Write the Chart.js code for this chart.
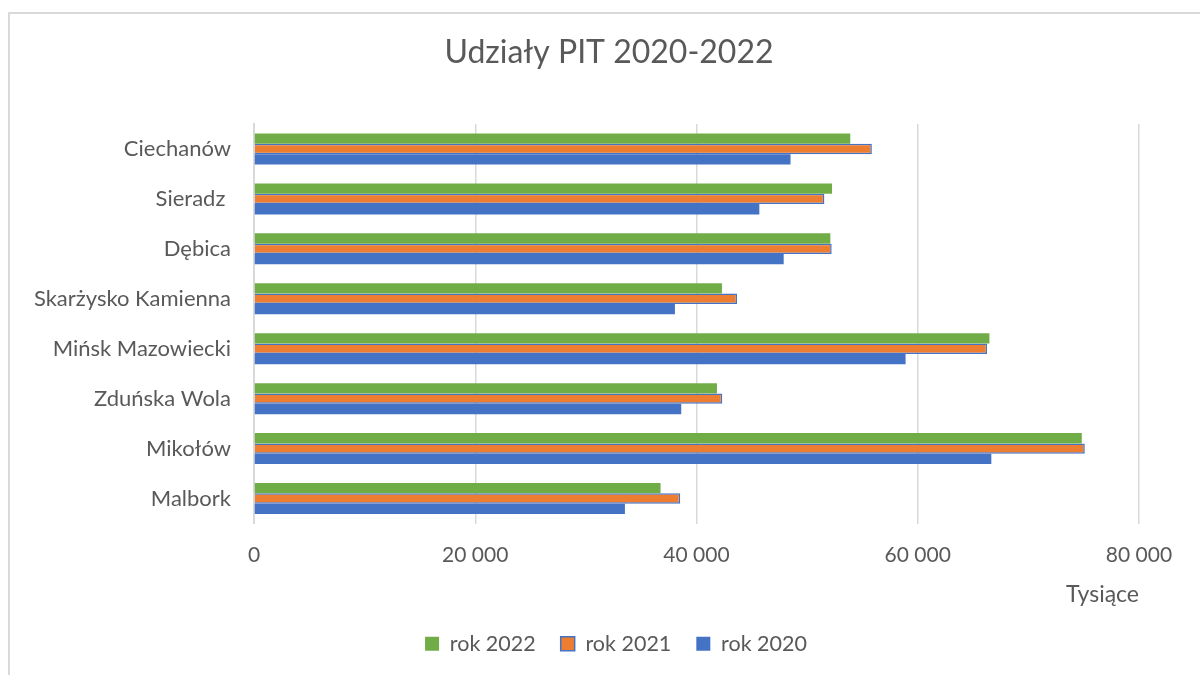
<!DOCTYPE html>
<html>
<head>
<meta charset="utf-8">
<script src="https://cdn.jsdelivr.net/npm/chart.js@4.4.1/dist/chart.umd.min.js"></script>
<style>
  html, body { margin: 0; padding: 0; background: #ffffff; overflow: hidden; }
  #wrap { position: relative; width: 1200px; height: 675px; }
  #frame { position: absolute; left: 8px; top: 12px; width: 1300px; height: 800px;
           border-top: 2px solid #d9d9d9; border-left: 2px solid #d9d9d9; box-sizing: border-box; }
  #c { position: absolute; left: 0; top: 0; }
</style>
</head>
<body>
<div id="wrap">
  <div id="frame"></div>
  <canvas id="c" width="1200" height="675"></canvas>
</div>
<script>
const categories = ['Ciechanów', 'Sieradz ', 'Dębica', 'Skarżysko Kamienna', 'Mińsk Mazowiecki', 'Zduńska Wola', 'Mikołów', 'Malbork'];
const rok2022 = [53900, 52250, 52100, 42300, 66480, 41850, 74830, 36750];
const rok2021 = [55850, 51560, 52220, 43660, 66270, 42330, 75100, 38530];
const rok2020 = [48500, 45680, 47880, 38050, 58900, 38620, 66650, 33530];
const seriesNames = ['rok 2022', 'rok 2021', 'rok 2020'];
const xTicks = [0, 20000, 40000, 60000, 80000];
const chartTitle = 'Udziały PIT 2020-2022';
const xAxisTitle = 'Tysiące';

const FONT = 'Lato';
const TEXT = '#595959';

function fmt(v) {
  return String(Math.round(v)).replace(/\B(?=(\d{3})+(?!\d))/g, ' ');
}

// Shift the title and legend boxes so they are centred like the reference
const shiftPlugin = {
  id: 'shiftBlocks',
  afterLayout(chart) {
    if (chart.titleBlock) { chart.titleBlock.left = 79; chart.titleBlock.width = chart.titleBlock.right - 79; }
    if (chart.legend) { chart.legend.left = 93; chart.legend.width = chart.legend.right - 93; }
  }
};

new Chart(document.getElementById('c'), {
  type: 'bar',
  plugins: [shiftPlugin],
  data: {
    labels: categories,
    datasets: [
      { label: seriesNames[0], data: rok2022, backgroundColor: '#70AD47', borderWidth: 0 },
      { label: seriesNames[1], data: rok2021, backgroundColor: '#ED7D31', borderColor: '#4472C4', borderWidth: 1.5 },
      { label: seriesNames[2], data: rok2020, backgroundColor: '#4472C4', borderWidth: 0 }
    ]
  },
  options: {
    indexAxis: 'y',
    responsive: false,
    animation: false,
    layout: { padding: { left: 0, right: 61, top: 0, bottom: 10.5 } },
    datasets: { bar: { categoryPercentage: 0.62, barPercentage: 1.0 } },
    plugins: {
      title: {
        display: true,
        text: chartTitle,
        color: TEXT,
        font: { family: FONT, size: 32, weight: 'normal' },
        padding: { top: 33, bottom: 52.6 }
      },
      legend: {
        display: true,
        position: 'bottom',
        labels: {
          boxWidth: 14,
          boxHeight: 14,
          padding: 25,
          color: TEXT,
          font: { family: FONT, size: 21.5 }
        }
      },
      tooltip: { enabled: false }
    },
    scales: {
      x: {
        type: 'linear',
        min: 0,
        max: 80000,
        afterBuildTicks: (s) => { s.ticks = xTicks.map(v => ({ value: v })); },
        afterFit: (s) => { s.height = 84.5; },
        grid: { display: true, color: '#d9d9d9', lineWidth: 1.5, drawTicks: false },
        border: { display: false },
        ticks: {
          color: TEXT,
          font: { family: FONT, size: 21 },
          padding: 19,
          callback: (v) => fmt(v)
        },
        title: {
          display: true,
          text: xAxisTitle,
          align: 'end',
          color: TEXT,
          font: { family: FONT, size: 23 },
          padding: { top: 0, bottom: 0 }
        }
      },
      y: {
        type: 'category',
        afterFit: (s) => { s.width = 254; },
        grid: { display: false, drawTicks: false },
        border: { display: true, color: '#d9d9d9', width: 2 },
        ticks: {
          color: TEXT,
          font: { family: FONT, size: 22 },
          padding: 23
        }
      }
    }
  }
});
</script>
</body>
</html>
